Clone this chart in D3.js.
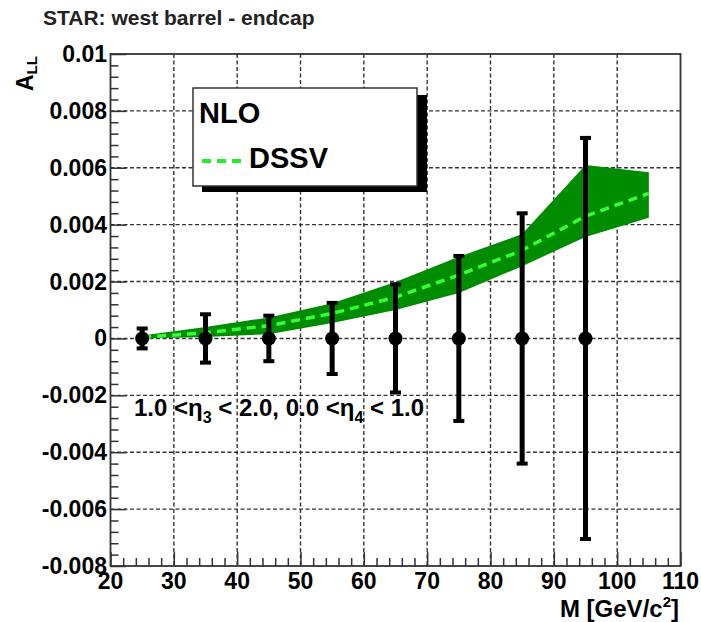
<!DOCTYPE html>
<html>
<head>
<meta charset="utf-8">
<script src="https://cdn.jsdelivr.net/npm/d3@7"></script>
<style>
  body { margin: 0; background: #fff; }
  svg { display: block; font-family: "Liberation Sans", Arial, sans-serif; font-weight: bold; }
</style>
</head>
<body>
<div id="chart"></div>
<script>
// data points (STAR projection, all at zero with stat errors)
var massBins = [25, 35, 45, 55, 65, 75, 85, 95];
var asymValues = [0, 0, 0, 0, 0, 0, 0, 0];
var statErrors = [0.00035, 0.00085, 0.0008, 0.00125, 0.0019, 0.0029, 0.0044, 0.00705];

// NLO DSSV band
var theoryMass = [25, 35, 45, 55, 65, 75, 85, 95, 105];
var dssvCentral = [0.00004, 0.0002, 0.00045, 0.00088, 0.00145, 0.00223, 0.0031, 0.0043, 0.0051];
var dssvUpper = [0.0001, 0.0004, 0.00074, 0.00124, 0.00198, 0.00287, 0.00367, 0.0061, 0.00584];
var dssvLower = [0, 0.00005, 0.00015, 0.00054, 0.001, 0.0016, 0.00254, 0.00357, 0.00424];

var xTicks = [20, 30, 40, 50, 60, 70, 80, 90, 100, 110];
var yTicks = [-0.008, -0.006, -0.004, -0.002, 0, 0.002, 0.004, 0.006, 0.008, 0.01];

var W = 701, H = 622;
// frame (note: "top" is taken by window.top, so prefix these)
var fLeft = 110.5, fRight = 680.5, fTop = 54, fBottom = 566;

var svg = d3.select('#chart').append('svg')
    .attr('width', W)
    .attr('height', H);

var x = d3.scaleLinear().domain([20, 110]).range([fLeft, fRight]);
var y = d3.scaleLinear().domain([-0.008, 0.01]).range([fBottom, fTop]);

// grid
var grid = svg.append('g')
    .attr('stroke', '#333')
    .attr('stroke-width', 1.4)
    .attr('stroke-dasharray', '4,2.5');
grid.selectAll('line.gx')
    .data(xTicks.slice(1, -1))
    .enter().append('line')
    .attr('x1', function (d) { return x(d); })
    .attr('x2', function (d) { return x(d); })
    .attr('y1', fTop)
    .attr('y2', fBottom);
grid.selectAll('line.gy')
    .data(yTicks.slice(1, -1))
    .enter().append('line')
    .attr('y1', function (d) { return y(d); })
    .attr('y2', function (d) { return y(d); })
    .attr('x1', fLeft)
    .attr('x2', fRight);

// band
var idx = d3.range(theoryMass.length);
var band = d3.area()
    .x(function (i) { return x(theoryMass[i]); })
    .y0(function (i) { return y(dssvLower[i]); })
    .y1(function (i) { return y(dssvUpper[i]); });
svg.append('path')
    .attr('d', band(idx))
    .attr('fill', '#008c00');

var central = d3.line()
    .x(function (i) { return x(theoryMass[i]); })
    .y(function (i) { return y(dssvCentral[i]); });
svg.append('path')
    .attr('d', central(idx))
    .attr('fill', 'none')
    .attr('stroke', '#33ff33')
    .attr('stroke-width', 3.5)
    .attr('stroke-dasharray', '9,6');

// axes (ticks inward, like ROOT)
var xAxis = d3.axisTop(x)
    .tickValues(d3.range(20, 111, 2))
    .tickSize(8)
    .tickFormat('');
var gx = svg.append('g')
    .attr('transform', 'translate(0,' + fBottom + ')')
    .call(xAxis);
gx.selectAll('.tick line')
    .attr('y2', function (d) { return d % 10 === 0 ? -14 : -8; });

var yMinor = d3.range(0, 46).map(function (i) { return -0.008 + i * 0.0004; });
var yAxis = d3.axisRight(y)
    .tickValues(yMinor)
    .tickSize(8)
    .tickFormat('');
var gy = svg.append('g')
    .attr('transform', 'translate(' + fLeft + ',0)')
    .call(yAxis);
gy.selectAll('.tick line')
    .attr('x2', function (d, i) { return i % 5 === 0 ? 16 : 8; });

svg.selectAll('.domain').remove();
svg.selectAll('.tick line').attr('stroke', '#333').attr('stroke-width', 1.5);

svg.append('rect')
    .attr('x', fLeft).attr('y', fTop)
    .attr('width', fRight - fLeft).attr('height', fBottom - fTop)
    .attr('fill', 'none')
    .attr('stroke', '#333')
    .attr('stroke-width', 1.8);

// tick labels
svg.append('g').selectAll('text')
    .data(xTicks)
    .enter().append('text')
    .attr('x', function (d) { return x(d); })
    .attr('y', 589)
    .attr('text-anchor', 'middle')
    .attr('font-size', 23)
    .text(function (d) { return d; });

var fmtY = function (v) { return v === 0 ? '0' : String(+v.toFixed(3)); };
svg.append('g').selectAll('text')
    .data(yTicks)
    .enter().append('text')
    .attr('x', 107)
    .attr('y', function (d) { return y(d) + 8; })
    .attr('text-anchor', 'end')
    .attr('font-size', 23)
    .text(fmtY);

// data points
var pts = svg.append('g');
massBins.forEach(function (m, i) {
    var cx = x(m), v = asymValues[i], e = statErrors[i];
    pts.append('line')
        .attr('x1', cx).attr('x2', cx)
        .attr('y1', y(v + e)).attr('y2', y(v - e))
        .attr('stroke', '#000')
        .attr('stroke-width', 5);
    [v + e, v - e].forEach(function (c) {
        pts.append('rect')
            .attr('x', cx - 5.5).attr('y', y(c) - 2)
            .attr('width', 11).attr('height', 4)
            .attr('fill', '#000');
    });
    pts.append('circle')
        .attr('cx', cx).attr('cy', y(v))
        .attr('r', 7)
        .attr('fill', '#000');
});

// legend
var lg = svg.append('g');
lg.append('rect')
    .attr('x', 202).attr('y', 95)
    .attr('width', 225).attr('height', 97)
    .attr('fill', '#000');
lg.append('rect')
    .attr('x', 193).attr('y', 88)
    .attr('width', 224).attr('height', 98)
    .attr('fill', '#fff')
    .attr('stroke', '#333')
    .attr('stroke-width', 1.5);
lg.append('text')
    .attr('x', 199).attr('y', 123)
    .attr('font-size', 29)
    .text('NLO');
lg.append('line')
    .attr('x1', 202).attr('x2', 244)
    .attr('y1', 161).attr('y2', 161)
    .attr('stroke', '#22ee22')
    .attr('stroke-width', 4)
    .attr('stroke-dasharray', '9,6');
lg.append('text')
    .attr('x', 249).attr('y', 168)
    .attr('font-size', 29)
    .text('DSSV');

// title and labels
svg.append('text')
    .attr('x', 43).attr('y', 25)
    .attr('font-size', 21)
    .attr('fill', '#222')
    .text('STAR: west barrel - endcap');

var yl = svg.append('text')
    .attr('transform', 'translate(33,91) rotate(-90)')
    .attr('font-size', 23);
yl.append('tspan').text('A');
yl.append('tspan').attr('font-size', 15).attr('dy', 4).text('LL');

var xl = svg.append('text')
    .attr('x', 679).attr('y', 617)
    .attr('text-anchor', 'end')
    .attr('font-size', 24);
xl.append('tspan').text('M [GeV/c');
xl.append('tspan').attr('font-size', 15).attr('dy', -10).text('2');
xl.append('tspan').attr('dy', 10).text(']');

var note = svg.append('text')
    .attr('x', 134).attr('y', 416)
    .attr('font-size', 24);
note.append('tspan').text('1.0 <\u03b7');
note.append('tspan').attr('font-size', 16).attr('dy', 7).text('3');
note.append('tspan').attr('dy', -7).text(' < 2.0, 0.0 <\u03b7');
note.append('tspan').attr('font-size', 16).attr('dy', 7).text('4');
note.append('tspan').attr('dy', -7).text(' < 1.0');
</script>
</body>
</html>
